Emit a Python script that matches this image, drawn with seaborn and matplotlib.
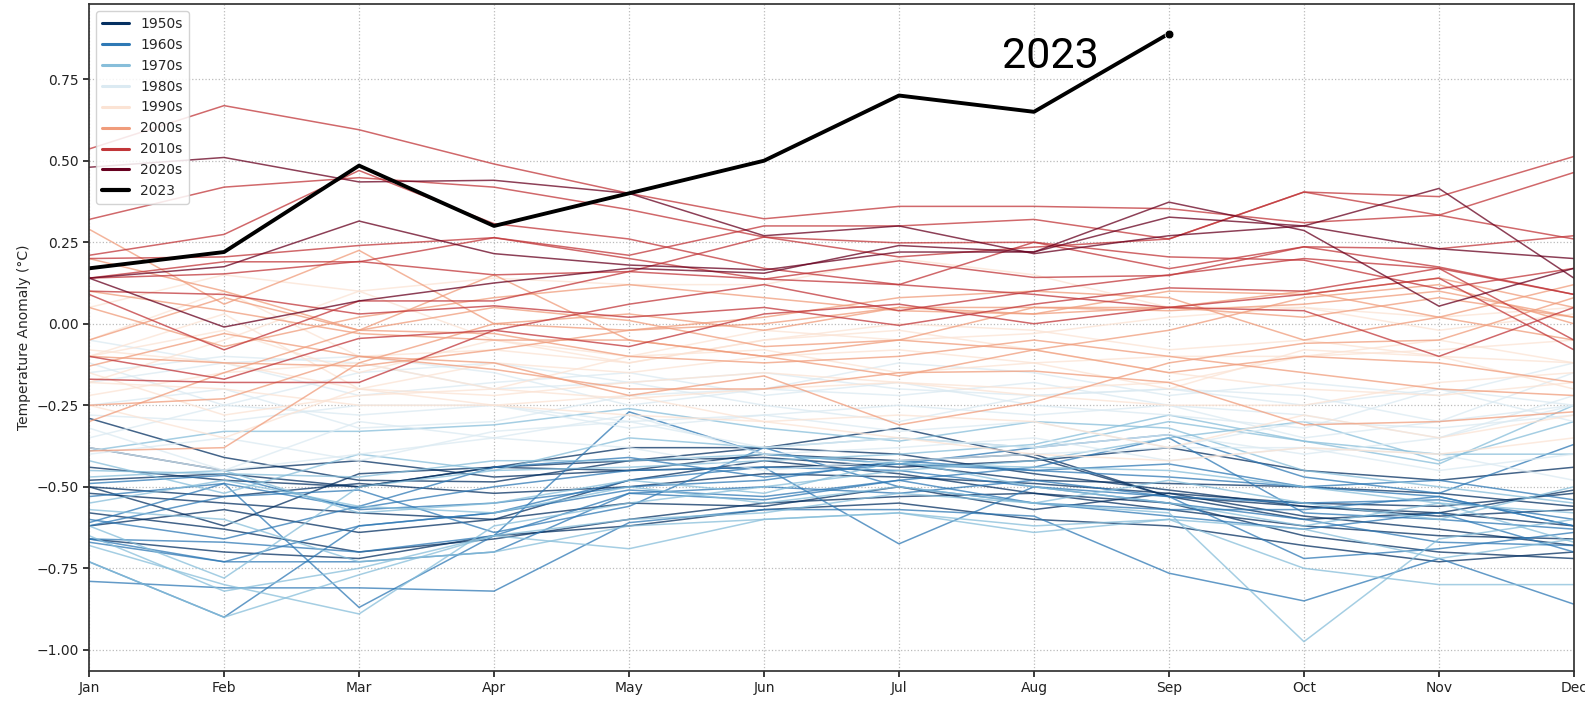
import numpy as np
import pandas as pd
import matplotlib
matplotlib.use("Agg")
import matplotlib.pyplot as plt
from matplotlib.lines import Line2D
import seaborn as sns

months = ["Jan", "Feb", "Mar", "Apr", "May", "Jun",
          "Jul", "Aug", "Sep", "Oct", "Nov", "Dec"]

# Monthly temperature anomalies (°C), one list per year
y1950 = [-0.50, -0.62, -0.46, -0.44, -0.45, -0.40, -0.42, -0.40, -0.53, -0.60, -0.58, -0.51]
y1951 = [-0.29, -0.41, -0.48, -0.485, -0.42, -0.38, -0.32, -0.41, -0.53, -0.56, -0.58, -0.62]
y1952 = [-0.52, -0.55, -0.58, -0.60, -0.48, -0.42, -0.46, -0.52, -0.57, -0.62, -0.65, -0.66]
y1953 = [-0.44, -0.48, -0.50, -0.44, -0.38, -0.38, -0.40, -0.46, -0.51, -0.56, -0.59, -0.57]
y1954 = [-0.62, -0.57, -0.64, -0.60, -0.55, -0.56, -0.50, -0.57, -0.52, -0.59, -0.63, -0.68]
y1955 = [-0.58, -0.63, -0.70, -0.66, -0.60, -0.55, -0.53, -0.52, -0.55, -0.65, -0.70, -0.72]
y1956 = [-0.66, -0.70, -0.72, -0.65, -0.62, -0.57, -0.55, -0.60, -0.62, -0.68, -0.73, -0.70]
y1957 = [-0.48, -0.46, -0.50, -0.44, -0.42, -0.41, -0.44, -0.42, -0.38, -0.45, -0.48, -0.44]
y1958 = [-0.38, -0.45, -0.42, -0.47, -0.45, -0.44, -0.43, -0.48, -0.49, -0.50, -0.52, -0.56]
y1959 = [-0.50, -0.53, -0.49, -0.52, -0.50, -0.46, -0.47, -0.49, -0.52, -0.55, -0.56, -0.52]

y1960 = [-0.49, -0.465, -0.57, -0.55, -0.50, -0.48, -0.42, -0.45, -0.47, -0.50, -0.53, -0.62]
y1961 = [-0.61, -0.49, -0.565, -0.50, -0.45, -0.44, -0.45, -0.50, -0.53, -0.55, -0.54, -0.60]
y1962 = [-0.66, -0.67, -0.70, -0.65, -0.52, -0.54, -0.48, -0.44, -0.35, -0.58, -0.60, -0.63]
y1963 = [-0.79, -0.81, -0.81, -0.82, -0.61, -0.57, -0.57, -0.59, -0.765, -0.85, -0.72, -0.86]
y1964 = [-0.67, -0.73, -0.73, -0.70, -0.52, -0.50, -0.52, -0.48, -0.53, -0.72, -0.69, -0.64]
y1965 = [-0.73, -0.90, -0.62, -0.58, -0.48, -0.44, -0.675, -0.50, -0.55, -0.60, -0.67, -0.68]
y1966 = [-0.53, -0.49, -0.87, -0.65, -0.27, -0.40, -0.43, -0.38, -0.34, -0.47, -0.52, -0.37]
y1967 = [-0.62, -0.53, -0.51, -0.64, -0.56, -0.38, -0.50, -0.55, -0.57, -0.57, -0.53, -0.62]
y1968 = [-0.66, -0.73, -0.62, -0.58, -0.51, -0.53, -0.48, -0.55, -0.59, -0.63, -0.58, -0.70]
y1969 = [-0.60, -0.66, -0.56, -0.44, -0.41, -0.47, -0.43, -0.45, -0.43, -0.50, -0.48, -0.54]

y1970 = [-0.45, -0.46, -0.47, -0.42, -0.42, -0.40, -0.43, -0.44, -0.45, -0.50, -0.55, -0.58]
y1971 = [-0.65, -0.82, -0.75, -0.65, -0.69, -0.60, -0.58, -0.62, -0.60, -0.63, -0.72, -0.66]
y1972 = [-0.68, -0.80, -0.89, -0.62, -0.55, -0.50, -0.45, -0.42, -0.35, -0.30, -0.42, -0.30]
y1973 = [-0.39, -0.33, -0.33, -0.31, -0.26, -0.32, -0.36, -0.30, -0.32, -0.45, -0.50, -0.55]
y1974 = [-0.73, -0.90, -0.77, -0.65, -0.60, -0.58, -0.52, -0.55, -0.58, -0.975, -0.66, -0.60]
y1975 = [-0.47, -0.45, -0.58, -0.55, -0.48, -0.52, -0.42, -0.50, -0.55, -0.62, -0.55, -0.67]
y1976 = [-0.57, -0.60, -0.73, -0.70, -0.62, -0.60, -0.58, -0.64, -0.60, -0.75, -0.80, -0.80]
y1977 = [-0.42, -0.52, -0.40, -0.45, -0.35, -0.38, -0.35, -0.38, -0.30, -0.36, -0.40, -0.40]
y1978 = [-0.55, -0.48, -0.56, -0.58, -0.50, -0.55, -0.50, -0.55, -0.48, -0.55, -0.60, -0.50]
y1979 = [-0.62, -0.78, -0.50, -0.45, -0.44, -0.42, -0.40, -0.37, -0.28, -0.36, -0.43, -0.25]

y1980 = [-0.18, -0.12, -0.22, -0.18, -0.15, -0.22, -0.18, -0.25, -0.28, -0.32, -0.20, -0.25]
y1981 = [-0.05, -0.12, -0.10, -0.15, -0.25, -0.20, -0.22, -0.18, -0.25, -0.35, -0.30, -0.15]
y1982 = [-0.40, -0.35, -0.42, -0.33, -0.30, -0.38, -0.35, -0.38, -0.34, -0.40, -0.35, -0.22]
y1983 = [-0.15, -0.10, -0.12, -0.20, -0.18, -0.25, -0.30, -0.22, -0.20, -0.25, -0.20, -0.30]
y1984 = [-0.32, -0.45, -0.30, -0.35, -0.28, -0.40, -0.38, -0.35, -0.42, -0.38, -0.40, -0.48]
y1985 = [-0.38, -0.45, -0.40, -0.35, -0.38, -0.45, -0.42, -0.40, -0.38, -0.38, -0.45, -0.40]
y1986 = [-0.28, -0.30, -0.25, -0.25, -0.30, -0.28, -0.33, -0.30, -0.38, -0.30, -0.32, -0.28]
y1987 = [-0.25, -0.20, -0.32, -0.30, -0.22, -0.20, -0.12, -0.15, -0.22, -0.18, -0.22, -0.12]
y1988 = [-0.12, -0.25, -0.15, -0.12, -0.18, -0.15, -0.20, -0.22, -0.20, -0.22, -0.30, -0.25]
y1989 = [-0.35, -0.25, -0.28, -0.25, -0.32, -0.28, -0.25, -0.28, -0.25, -0.28, -0.35, -0.25]

y1990 = [-0.18, -0.05, 0.10, -0.05, -0.10, -0.08, -0.15, -0.12, -0.20, -0.08, -0.10, -0.12]
y1991 = [-0.10, -0.02, -0.15, -0.05, -0.12, -0.05, -0.02, -0.08, -0.15, -0.20, -0.22, -0.18]
y1992 = [-0.08, -0.12, -0.20, -0.25, -0.28, -0.30, -0.35, -0.40, -0.42, -0.38, -0.40, -0.35]
y1993 = [-0.18, -0.20, -0.25, -0.25, -0.22, -0.30, -0.28, -0.30, -0.38, -0.28, -0.35, -0.28]
y1994 = [-0.25, -0.35, -0.20, -0.22, -0.18, -0.15, -0.18, -0.20, -0.18, -0.10, -0.05, -0.12]
y1995 = [-0.05, 0.10, -0.10, -0.08, -0.12, -0.05, 0.00, -0.02, -0.08, -0.05, -0.10, -0.20]
y1996 = [-0.15, -0.28, -0.22, -0.20, -0.23, -0.20, -0.18, -0.22, -0.25, -0.25, -0.18, -0.15]
y1997 = [-0.22, -0.15, -0.12, -0.20, -0.10, -0.02, -0.05, -0.03, 0.02, 0.05, 0.02, 0.05]
y1998 = [0.05, 0.15, 0.10, 0.14, 0.12, 0.12, 0.20, 0.15, 0.05, 0.05, -0.02, 0.03]
y1999 = [-0.10, 0.03, -0.20, -0.12, -0.15, -0.10, -0.08, -0.12, -0.10, -0.10, -0.08, -0.05]

y2000 = [-0.30, -0.15, -0.02, -0.03, -0.10, -0.12, -0.10, -0.05, -0.10, -0.15, -0.20, -0.22]
y2001 = [-0.39, -0.38, -0.12, 0.00, 0.03, -0.02, 0.05, 0.05, 0.04, 0.06, 0.10, 0.02]
y2002 = [0.29, 0.06, 0.225, 0.00, -0.02, 0.00, 0.05, 0.03, 0.05, 0.02, 0.08, 0.02]
y2003 = [0.10, 0.04, -0.03, -0.05, -0.05, -0.10, -0.05, 0.05, 0.05, 0.10, 0.02, 0.12]
y2004 = [-0.05, 0.08, -0.02, 0.15, -0.05, -0.10, -0.16, -0.08, -0.02, 0.08, 0.12, 0.00]
y2005 = [0.05, -0.07, 0.02, 0.08, 0.12, 0.08, 0.04, 0.03, 0.10, 0.09, 0.14, 0.05]
y2006 = [-0.13, -0.03, -0.10, -0.12, -0.22, -0.16, -0.31, -0.24, -0.12, -0.06, -0.05, 0.08]
y2007 = [0.20, 0.10, -0.02, 0.05, 0.01, -0.07, -0.05, -0.08, -0.15, -0.10, -0.12, -0.18]
y2008 = [-0.25, -0.23, -0.10, -0.14, -0.20, -0.20, -0.15, -0.145, -0.18, -0.31, -0.30, -0.27]
y2009 = [-0.10, -0.12, -0.13, -0.08, -0.02, 0.02, 0.08, 0.10, 0.08, -0.05, 0.02, -0.05]

y2010 = [0.21, 0.274, 0.47, 0.307, 0.26, 0.17, 0.12, 0.09, 0.05, 0.09, 0.14, -0.08]
y2011 = [-0.10, -0.17, -0.045, -0.02, -0.07, 0.03, 0.06, 0.00, 0.05, 0.04, -0.10, 0.05]
y2012 = [-0.17, -0.18, -0.18, -0.02, 0.06, 0.12, 0.04, 0.10, 0.15, 0.20, 0.17, -0.05]
y2013 = [0.10, 0.09, 0.03, 0.055, 0.02, 0.05, -0.005, 0.06, 0.11, 0.10, 0.17, 0.09]
y2014 = [0.09, -0.08, 0.07, 0.07, 0.16, 0.137, 0.12, 0.25, 0.205, 0.195, 0.107, 0.17]
y2015 = [0.14, 0.153, 0.191, 0.15, 0.16, 0.266, 0.205, 0.235, 0.26, 0.404, 0.39, 0.513]
y2016 = [0.536, 0.669, 0.595, 0.49, 0.40, 0.322, 0.36, 0.36, 0.353, 0.31, 0.333, 0.26]
y2017 = [0.32, 0.419, 0.448, 0.419, 0.35, 0.266, 0.248, 0.25, 0.169, 0.236, 0.23, 0.27]
y2018 = [0.14, 0.19, 0.19, 0.264, 0.20, 0.137, 0.193, 0.142, 0.148, 0.236, 0.174, 0.09]
y2019 = [0.20, 0.205, 0.24, 0.264, 0.21, 0.30, 0.30, 0.32, 0.26, 0.404, 0.333, 0.464]

y2020 = [0.48, 0.51, 0.435, 0.44, 0.40, 0.27, 0.30, 0.215, 0.27, 0.30, 0.415, 0.14]
y2021 = [0.14, -0.01, 0.07, 0.125, 0.17, 0.155, 0.24, 0.22, 0.327, 0.30, 0.23, 0.20]
y2022 = [0.14, 0.175, 0.315, 0.215, 0.18, 0.165, 0.22, 0.22, 0.373, 0.286, 0.054, 0.17]

y2023 = [0.17, 0.22, 0.485, 0.30, 0.40, 0.50, 0.70, 0.65, 0.89]

decades = ["1950s", "1960s", "1970s", "1980s", "1990s", "2000s", "2010s", "2020s"]

history = {
    1950: y1950, 1951: y1951, 1952: y1952, 1953: y1953, 1954: y1954,
    1955: y1955, 1956: y1956, 1957: y1957, 1958: y1958, 1959: y1959,
    1960: y1960, 1961: y1961, 1962: y1962, 1963: y1963, 1964: y1964,
    1965: y1965, 1966: y1966, 1967: y1967, 1968: y1968, 1969: y1969,
    1970: y1970, 1971: y1971, 1972: y1972, 1973: y1973, 1974: y1974,
    1975: y1975, 1976: y1976, 1977: y1977, 1978: y1978, 1979: y1979,
    1980: y1980, 1981: y1981, 1982: y1982, 1983: y1983, 1984: y1984,
    1985: y1985, 1986: y1986, 1987: y1987, 1988: y1988, 1989: y1989,
    1990: y1990, 1991: y1991, 1992: y1992, 1993: y1993, 1994: y1994,
    1995: y1995, 1996: y1996, 1997: y1997, 1998: y1998, 1999: y1999,
    2000: y2000, 2001: y2001, 2002: y2002, 2003: y2003, 2004: y2004,
    2005: y2005, 2006: y2006, 2007: y2007, 2008: y2008, 2009: y2009,
    2010: y2010, 2011: y2011, 2012: y2012, 2013: y2013, 2014: y2014,
    2015: y2015, 2016: y2016, 2017: y2017, 2018: y2018, 2019: y2019,
    2020: y2020, 2021: y2021, 2022: y2022,
}

# Long-form table: one row per year and month
rows = []
for year, vals in history.items():
    for m, v in enumerate(vals):
        rows.append({"year": year, "month": m, "anomaly": v})
df = pd.DataFrame(rows)
df23 = pd.DataFrame({"month": np.arange(len(y2023)), "anomaly": y2023})

# One diverging colour per decade
cmap = sns.color_palette("RdBu_r", as_cmap=True)
decade_colors = {d: cmap(i / (len(decades) - 1)) for i, d in enumerate(decades)}
year_colors = {y: decade_colors[f"{(y // 10) * 10}s"] for y in history}

sns.set_theme(style="ticks")
plt.rcParams["font.family"] = ["DejaVu Sans"]

fig, ax = plt.subplots(figsize=(15.85, 7.03), dpi=100)
fig.subplots_adjust(left=0.0562, right=0.993, top=0.994, bottom=0.0455)

sns.lineplot(data=df, x="month", y="anomaly", hue="year", palette=year_colors,
             units="year", estimator=None, sort=False, legend=False,
             linewidth=1.1, alpha=0.75, ax=ax)
sns.lineplot(data=df23, x="month", y="anomaly", color="black", linewidth=2.8,
             estimator=None, sort=False, legend=False, ax=ax)
sns.scatterplot(x=[df23["month"].iloc[-1]], y=[df23["anomaly"].iloc[-1]],
                color="black", s=40, zorder=5, ax=ax, legend=False)

ax.text(6.76, 0.82, "2023", fontsize=31, va="center", ha="left",
        family=["Roboto", "DejaVu Sans"], color="black")

ax.set_xlim(0, 11)
ax.set_ylim(-1.065, 0.98)
ax.set_xticks(range(12))
ax.set_xticklabels(months, fontsize=10)
ax.set_yticks([-1.0, -0.75, -0.5, -0.25, 0.0, 0.25, 0.5, 0.75])
ax.set_yticklabels([f"{t:.2f}".replace("-", "\u2212") for t in ax.get_yticks()], fontsize=10)
ax.set_xlabel("")
ax.set_ylabel("Temperature Anomaly (°C)", fontsize=10)
ax.grid(True, linestyle=":", color="#bbbbbb", linewidth=0.9)
for s in ax.spines.values():
    s.set_visible(True)
    s.set_color("#333333")
ax.tick_params(direction="out", length=4, colors="#222222")

handles = [Line2D([0], [0], color=decade_colors[d], lw=2.2) for d in decades]
handles.append(Line2D([0], [0], color="black", lw=3))
ax.legend(handles, decades + ["2023"], loc="upper left", fontsize=10,
          frameon=True, framealpha=0.85)

fig.savefig("out.png", dpi=100)
